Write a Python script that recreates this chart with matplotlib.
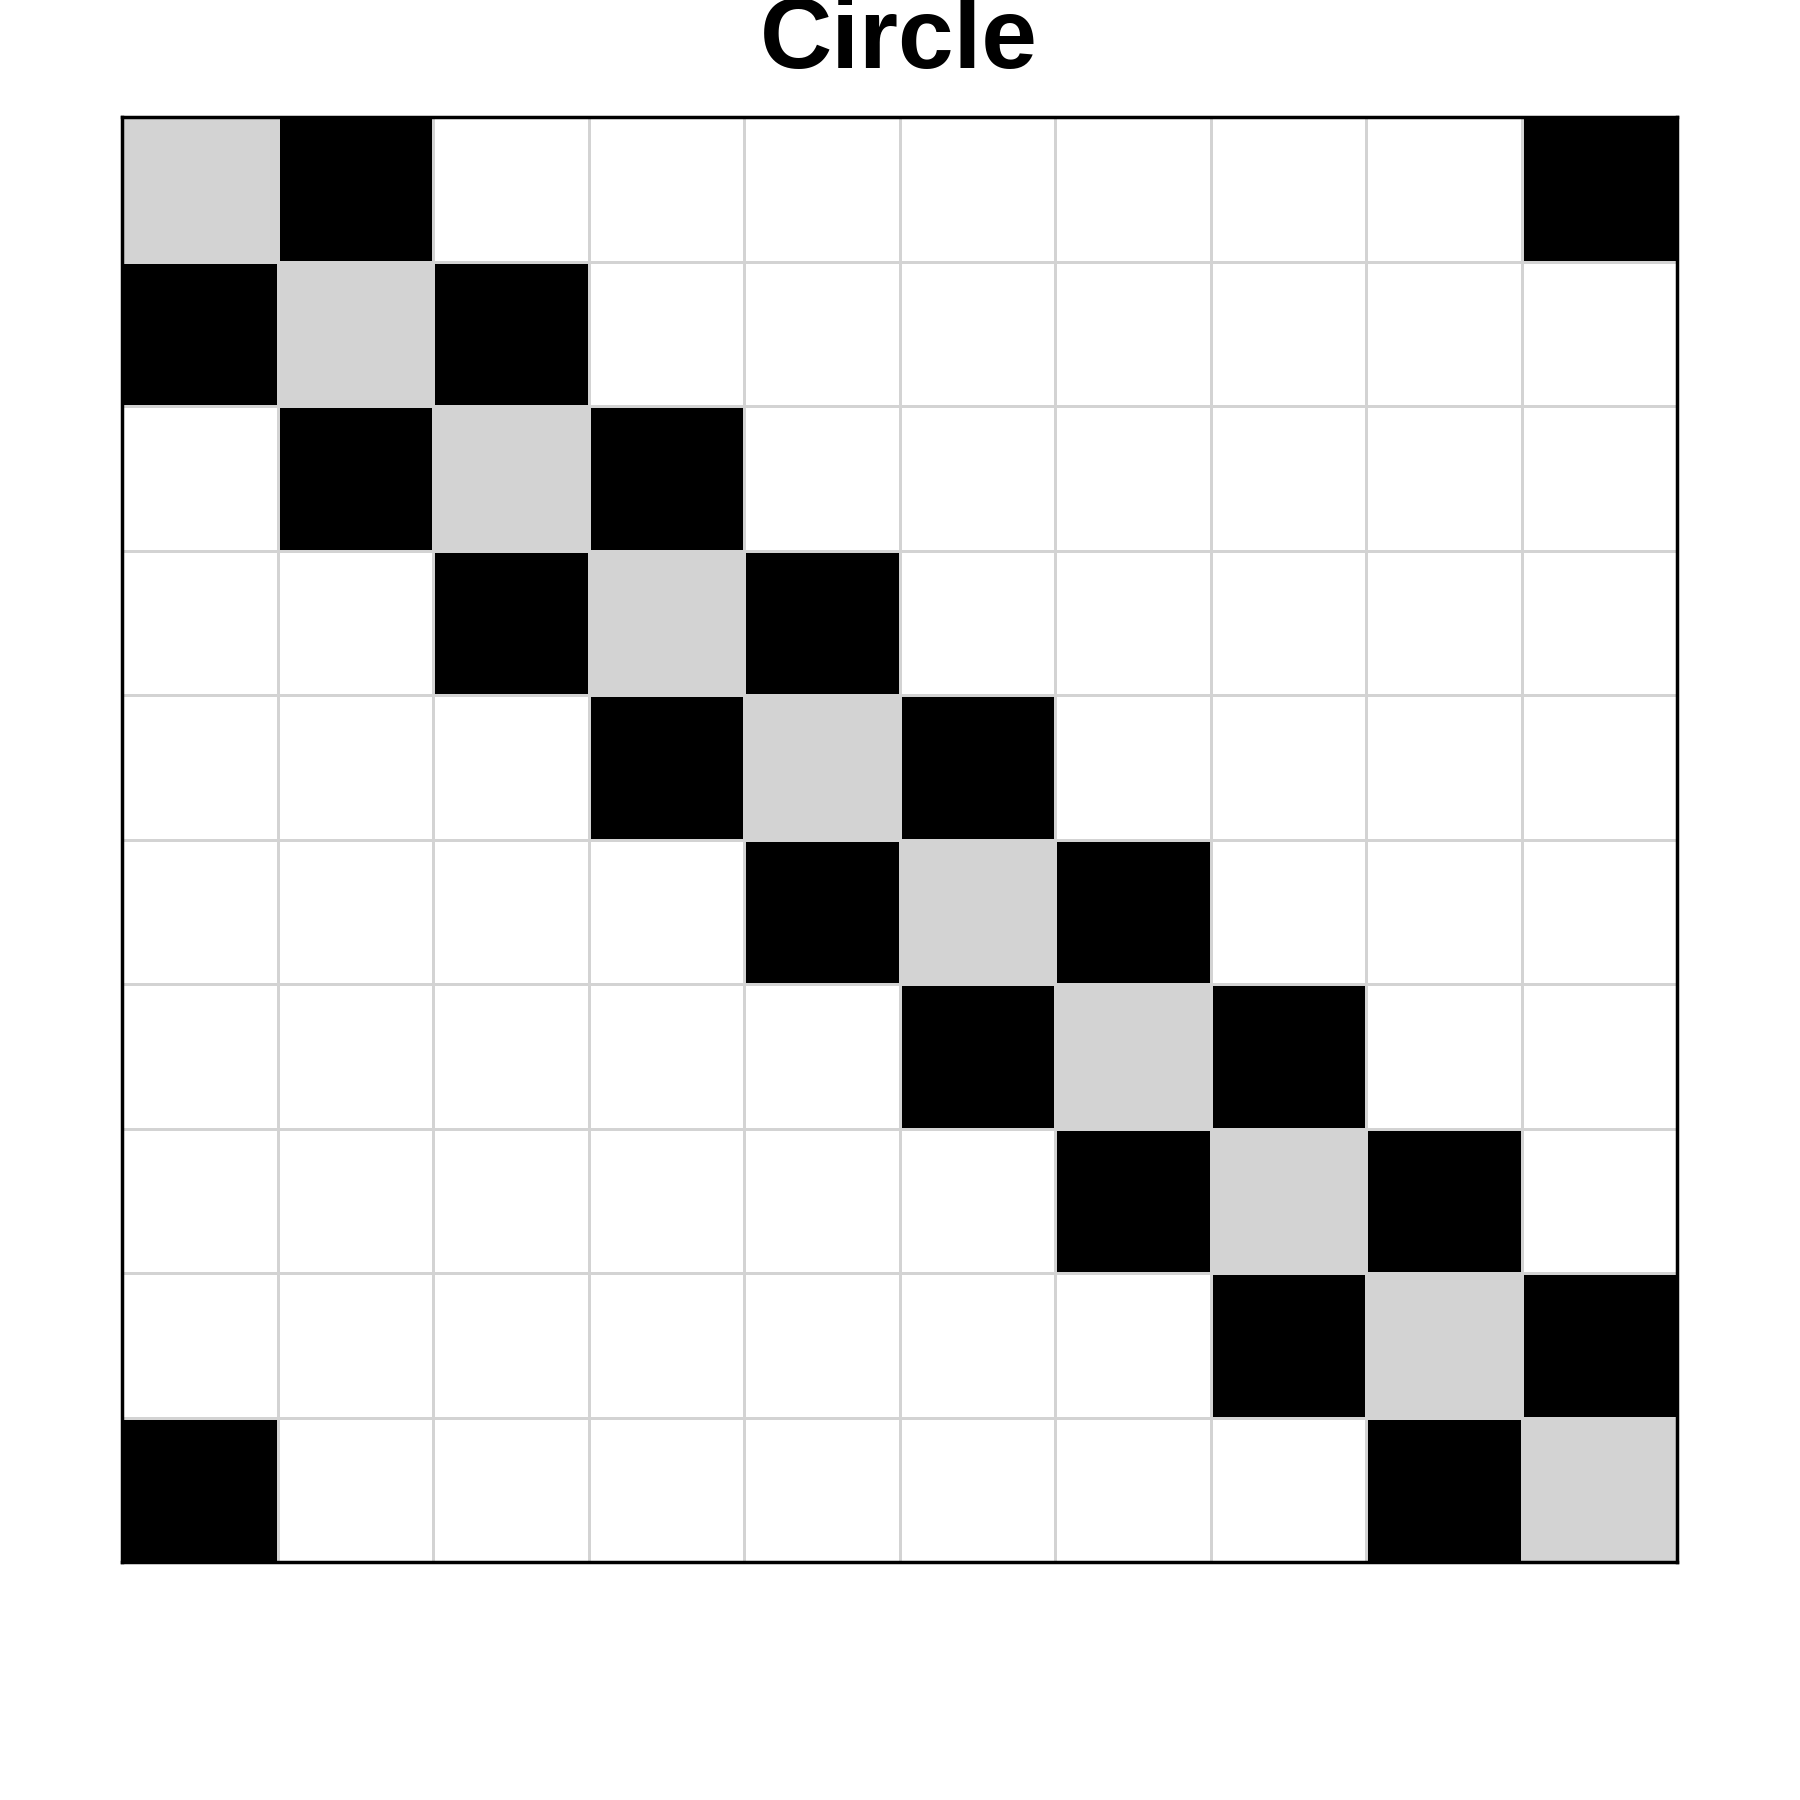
import numpy as np
import matplotlib.pyplot as plt
from matplotlib.colors import ListedColormap

# circle graph on 10 nodes
nodes = list(range(10))
edges = [(0, 1), (1, 2), (2, 3), (3, 4), (4, 5), (5, 6), (6, 7), (7, 8), (8, 9), (9, 0)]

n = len(nodes)
mat = np.zeros((n, n))
for i in nodes:
    mat[i, i] = 1  # diagonal
for a, b in edges:
    mat[a, b] = 2
    mat[b, a] = 2

cmap = ListedColormap(['white', 'lightgray', 'black'])

fig = plt.figure(figsize=(18, 18), dpi=100)
ax = fig.add_axes([0.0678, 0.1322, 0.8639, 0.8028])
ax.pcolormesh(mat, cmap=cmap, vmin=-0.5, vmax=2.5, edgecolors='lightgray', linewidth=1.8)
ax.set_xlim(0, n)
ax.set_ylim(n, 0)
ax.set_xticks([])
ax.set_yticks([])
for s in ax.spines.values():
    s.set_linewidth(2.5)
    s.set_color('black')

fig.text(0.4995, 1 - 68 / 1800, 'Circle', ha='center', va='baseline',
         fontsize=72, fontweight='bold', family=['Liberation Sans', 'DejaVu Sans'])

fig.savefig('out.png', dpi=100)
